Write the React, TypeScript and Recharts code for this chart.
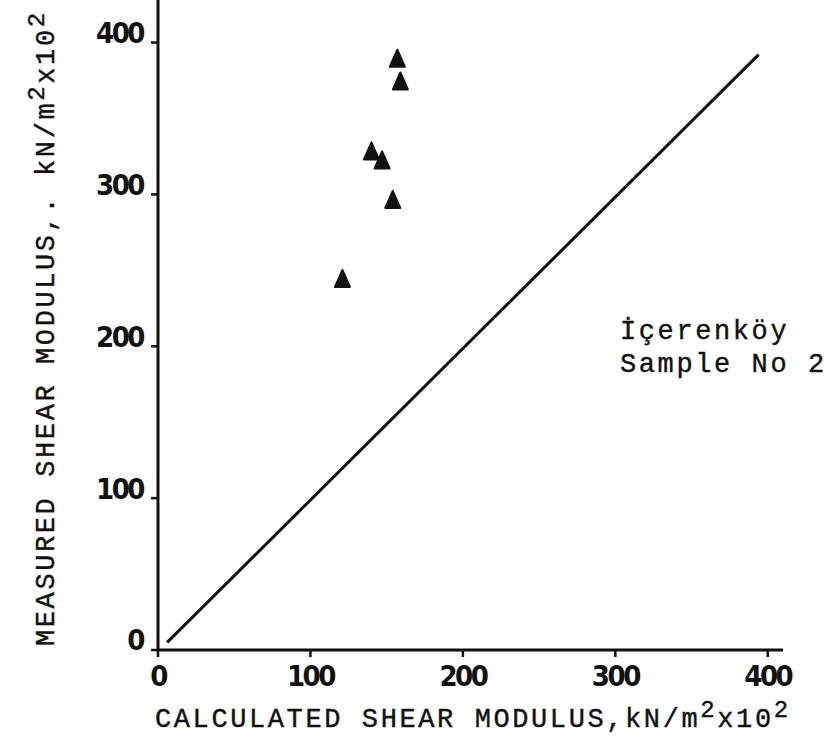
import React from 'react';
import { ScatterChart, Scatter, XAxis, YAxis, Customized } from 'recharts';

// measured vs calculated shear modulus, kN/m2 x 10^2
const calcModulus = [157, 159, 140, 147, 154, 121];
const measModulus = [388, 373, 327, 321, 295, 243];
// 1:1 reference line
const lineX = [6, 394];
const lineY = [5, 392];
const xTicks = [0, 100, 200, 300, 400];
const yTicks = [0, 100, 200, 300, 400];
const noteLines = ['İçerenköy', 'Sample No 2'];

const points = calcModulus.map((c, i) => ({ x: c, y: measModulus[i] }));
const linePts = lineX.map((v, i) => ({ x: v, y: lineY[i] }));

const mono = "'Liberation Mono', 'DejaVu Sans Mono', monospace";
const digits = "'DejaVu Sans Condensed', 'Liberation Sans Narrow', sans-serif";
const ink = '#111';

const Triangle = (props: any) => {
  const { cx, cy } = props;
  if (cx == null || cy == null) return <g />;
  return (
    <path
      d={`M${cx},${cy - 11} L${cx + 7.5},${cy + 6} L${cx - 7.5},${cy + 6} Z`}
      fill={ink}
      stroke={ink}
      strokeWidth={2}
      strokeLinejoin="round"
    />
  );
};

const YTick = (props: any) => {
  const { x, y, payload } = props;
  return (
    <text x={x} y={y - 10} dy="0.36em" textAnchor="end" fontFamily={digits} fontWeight={600} fontSize={29} letterSpacing={-2.5} fill={ink}>
      {payload.value}
    </text>
  );
};

const XTick = (props: any) => {
  const { x, y, payload } = props;
  return (
    <text x={x} y={y} dy="0.71em" textAnchor="middle" fontFamily={digits} fontWeight={600} fontSize={29} letterSpacing={-2.5} fill={ink}>
      {payload.value}
    </text>
  );
};

const Titles = () => (
  <g fill={ink} stroke={ink} strokeWidth={0.4} fontFamily={mono} fontSize={27} letterSpacing={2.6}>
    <text x={155} y={727}>
      CALCULATED SHEAR MODULUS,kN/m
      <tspan dy={-10} fontSize={24}>2</tspan>
      <tspan dy={10}>x10</tspan>
      <tspan dy={-10} fontSize={24}>2</tspan>
    </text>
    <text transform="translate(54,646) rotate(-90)">
      MEASURED SHEAR MODULUS,. kN/m
      <tspan dy={-10} fontSize={24}>2</tspan>
      <tspan dy={10}>x10</tspan>
      <tspan dy={-10} fontSize={24}>2</tspan>
    </text>
    {noteLines.map((t, i) => (
      <text key={t} x={620} y={339 + i * 33}>{t}</text>
    ))}
  </g>
);

export default function App() {
  return (
    <div style={{ position: 'absolute', left: 0, top: 0, background: '#fff' }}>
      <ScatterChart width={834} height={737} margin={{ top: 0, right: 51, bottom: 0, left: 0 }}>
        <XAxis
          type="number"
          dataKey="x"
          domain={[0, 410]}
          ticks={xTicks}
          height={87}
          axisLine={{ stroke: ink, strokeWidth: 3 }}
          tickLine={{ stroke: ink, strokeWidth: 2.5 }}
          tickSize={7}
          tickMargin={8}
          tick={<XTick />}
          allowDataOverflow
        />
        <YAxis
          type="number"
          dataKey="y"
          domain={[0, 428]}
          ticks={yTicks}
          width={158}
          axisLine={{ stroke: ink, strokeWidth: 3 }}
          tickLine={{ stroke: ink, strokeWidth: 2.5 }}
          tickSize={7}
          tickMargin={8}
          tick={<YTick />}
          allowDataOverflow
        />
        <Scatter
          data={linePts}
          line={{ stroke: ink, strokeWidth: 3 }}
          shape={() => <g />}
          isAnimationActive={false}
        />
        <Scatter data={points} shape={<Triangle />} isAnimationActive={false} />
        <Customized component={Titles} />
      </ScatterChart>
    </div>
  );
}
